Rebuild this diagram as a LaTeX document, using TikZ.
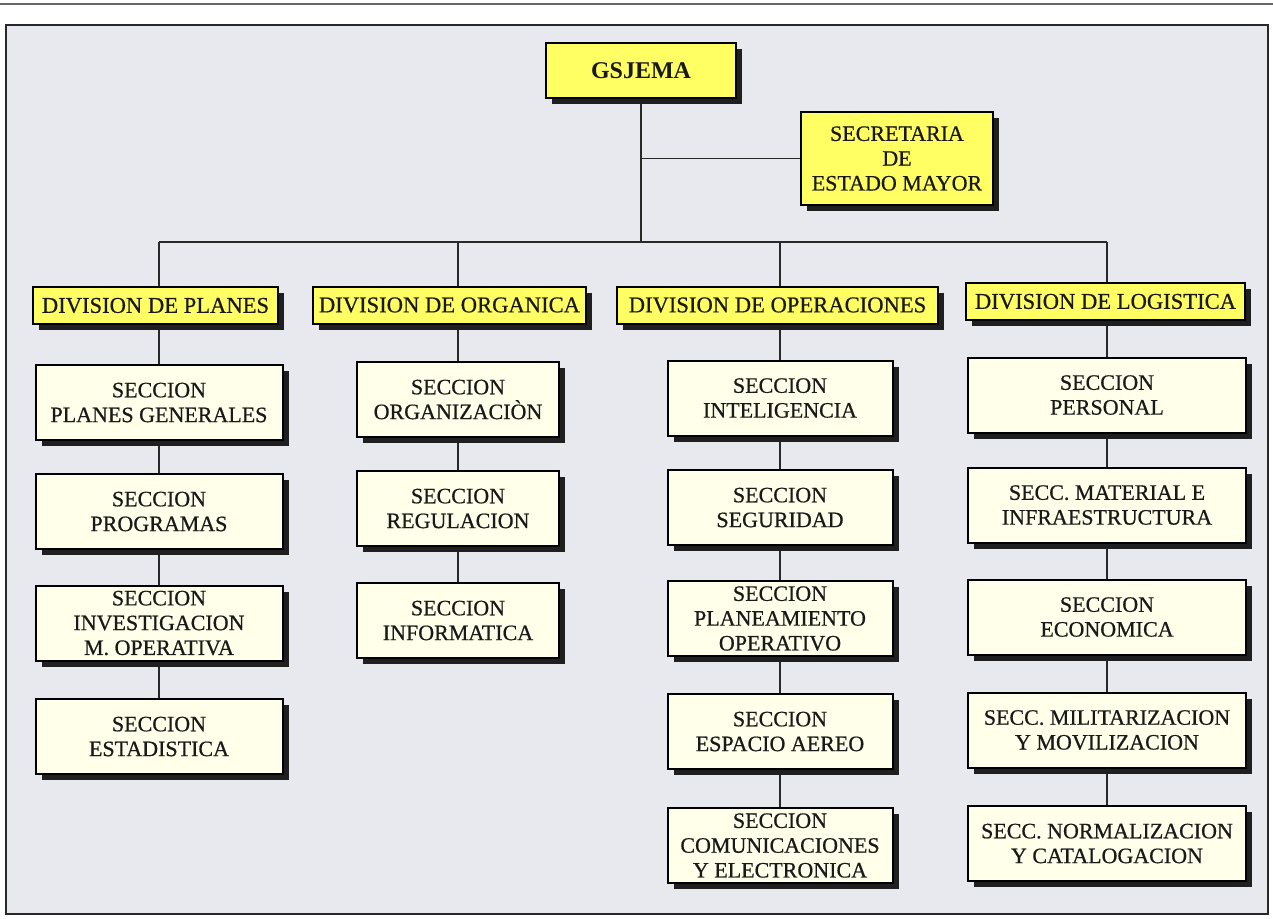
\documentclass[tikz,border=0pt]{standalone}
\usepackage{fontspec}
\setmainfont{Liberation Serif}
\newfontfamily\serifgruesa[FakeBold=0.6]{Liberation Serif}
\usepackage{tikz}
\usetikzlibrary{shadows,backgrounds}

\definecolor{fondo}{RGB}{232,232,239}
\definecolor{amarillo}{RGB}{255,255,100}
\definecolor{crema}{RGB}{255,255,234}
\definecolor{trazo}{RGB}{40,40,40}
\definecolor{texto}{RGB}{25,25,25}

\begin{document}
\begin{tikzpicture}[x=0.5pt,y=-0.5pt,
	caja/.style={draw=black,line width=1pt,align=center,inner sep=0pt,text=texto,
		font=\serifgruesa\fontsize{11}{12.4}\selectfont,
		drop shadow={shadow xshift=3.2pt,shadow yshift=-3.2pt,opacity=1,fill=black!88}},
	jefe/.style={caja,fill=amarillo},
	division/.style={caja,fill=amarillo,minimum height=18.5pt,font=\serifgruesa\fontsize{11.3}{12.4}\selectfont},
	seccion/.style={caja,fill=crema,minimum height=37.5pt},
	linea/.style={draw=trazo,line width=0.9pt},
	]
	\useasboundingbox (0,0) rectangle (1273,918);
	
	% ancho de las columnas (pt)
	\def\anchoA{123.5pt}
	\def\anchoB{101pt}
	\def\anchoC{112.5pt}
	\def\anchoD{139pt}
	
	% jefatura
	\node[jefe,minimum width=95pt,minimum height=27.5pt,font=\bfseries\fontsize{12}{14}\selectfont] (gsjema) at (641,70.5) {GSJEMA};
	\node[jefe,minimum width=96pt,minimum height=46.5pt] (secret) at (897,158.5) {SECRETARIA\\DE\\ESTADO MAYOR};
	
	% divisiones
	\node[division,minimum width=122.5pt] (planes) at (155.5,305.5) {DIVISION DE PLANES};
	\node[division,minimum width=136.5pt] (organica) at (449.5,305) {DIVISION DE ORGANICA};
	\node[division,minimum width=160.5pt] (operac) at (777.5,305) {DIVISION DE OPERACIONES};
	\node[division,minimum width=139.5pt] (logist) at (1105.5,301.5) {DIVISION DE LOGISTICA};
	
	% secciones de planes
	\node[seccion,minimum width=\anchoA] (pl1) at (159,402.5) {SECCION\\PLANES GENERALES};
	\node[seccion,minimum width=\anchoA] (pl2) at (159,511.5) {SECCION\\PROGRAMAS};
	\node[seccion,minimum width=\anchoA] (pl3) at (159,623) {SECCION\\INVESTIGACION\\M. OPERATIVA};
	\node[seccion,minimum width=\anchoA] (pl4) at (159,736.5) {SECCION\\ESTADISTICA};
	
	% secciones de organica
	\node[seccion,minimum width=\anchoB] (or1) at (458,399.5) {SECCION\\ORGANIZACIÒN};
	\node[seccion,minimum width=\anchoB] (or2) at (458,508.5) {SECCION\\REGULACION};
	\node[seccion,minimum width=\anchoB] (or3) at (458,620.5) {SECCION\\INFORMATICA};
	
	% secciones de operaciones
	\node[seccion,minimum width=\anchoC] (op1) at (780,398) {SECCION\\INTELIGENCIA};
	\node[seccion,minimum width=\anchoC] (op2) at (780,507.5) {SECCION\\SEGURIDAD};
	\node[seccion,minimum width=\anchoC] (op3) at (780,618.5) {SECCION\\PLANEAMIENTO\\OPERATIVO};
	\node[seccion,minimum width=\anchoC] (op4) at (780,731.5) {SECCION\\ESPACIO AEREO};
	\node[seccion,minimum width=\anchoC] (op5) at (780,845.5) {SECCION\\COMUNICACIONES\\Y ELECTRONICA};
	
	% secciones de logistica
	\node[seccion,minimum width=\anchoD] (lo1) at (1107,395) {SECCION\\PERSONAL};
	\node[seccion,minimum width=\anchoD] (lo2) at (1107,505) {SECC. MATERIAL E\\INFRAESTRUCTURA};
	\node[seccion,minimum width=\anchoD] (lo3) at (1107,617) {SECCION\\ECONOMICA};
	\node[seccion,minimum width=\anchoD] (lo4) at (1107,730) {SECC. MILITARIZACION\\Y MOVILIZACION};
	\node[seccion,minimum width=\anchoD] (lo5) at (1107,843.5) {SECC. NORMALIZACION\\Y CATALOGACION};
	
	\begin{scope}[on background layer]
		% marco y fondo
		\draw[gray!80!black,line width=0.9pt] (0,4) -- (1273,4);
		\draw[fill=fondo,draw=trazo,line width=1pt] (6,25) rectangle (1268,914);
		
		% barra principal
		\coordinate (barra) at (636,242);
		\draw[linea] (gsjema.south) -- (gsjema.south |- barra);
		\draw[linea] (secret.west -| gsjema.south) -- (secret.west);
		\draw[linea] (pl1.north |- barra) -- (lo1.north |- barra);
		
		% bajadas a las divisiones
		\draw[linea] (pl1.north |- barra) -- (pl1.north |- planes.north);
		\draw[linea] (or1.north |- barra) -- (or1.north |- organica.north);
		\draw[linea] (op1.north |- barra) -- (op1.north |- operac.north);
		\draw[linea] (lo1.north |- barra) -- (lo1.north |- logist.north);
		
		% cadenas de secciones
		\draw[linea] (pl1.north |- planes.south) -- (pl1) -- (pl2) -- (pl3) -- (pl4);
		\draw[linea] (or1.north |- organica.south) -- (or1) -- (or2) -- (or3);
		\draw[linea] (op1.north |- operac.south) -- (op1) -- (op2) -- (op3) -- (op4) -- (op5);
		\draw[linea] (lo1.north |- logist.south) -- (lo1) -- (lo2) -- (lo3) -- (lo4) -- (lo5);
	\end{scope}
\end{tikzpicture}
\end{document}
